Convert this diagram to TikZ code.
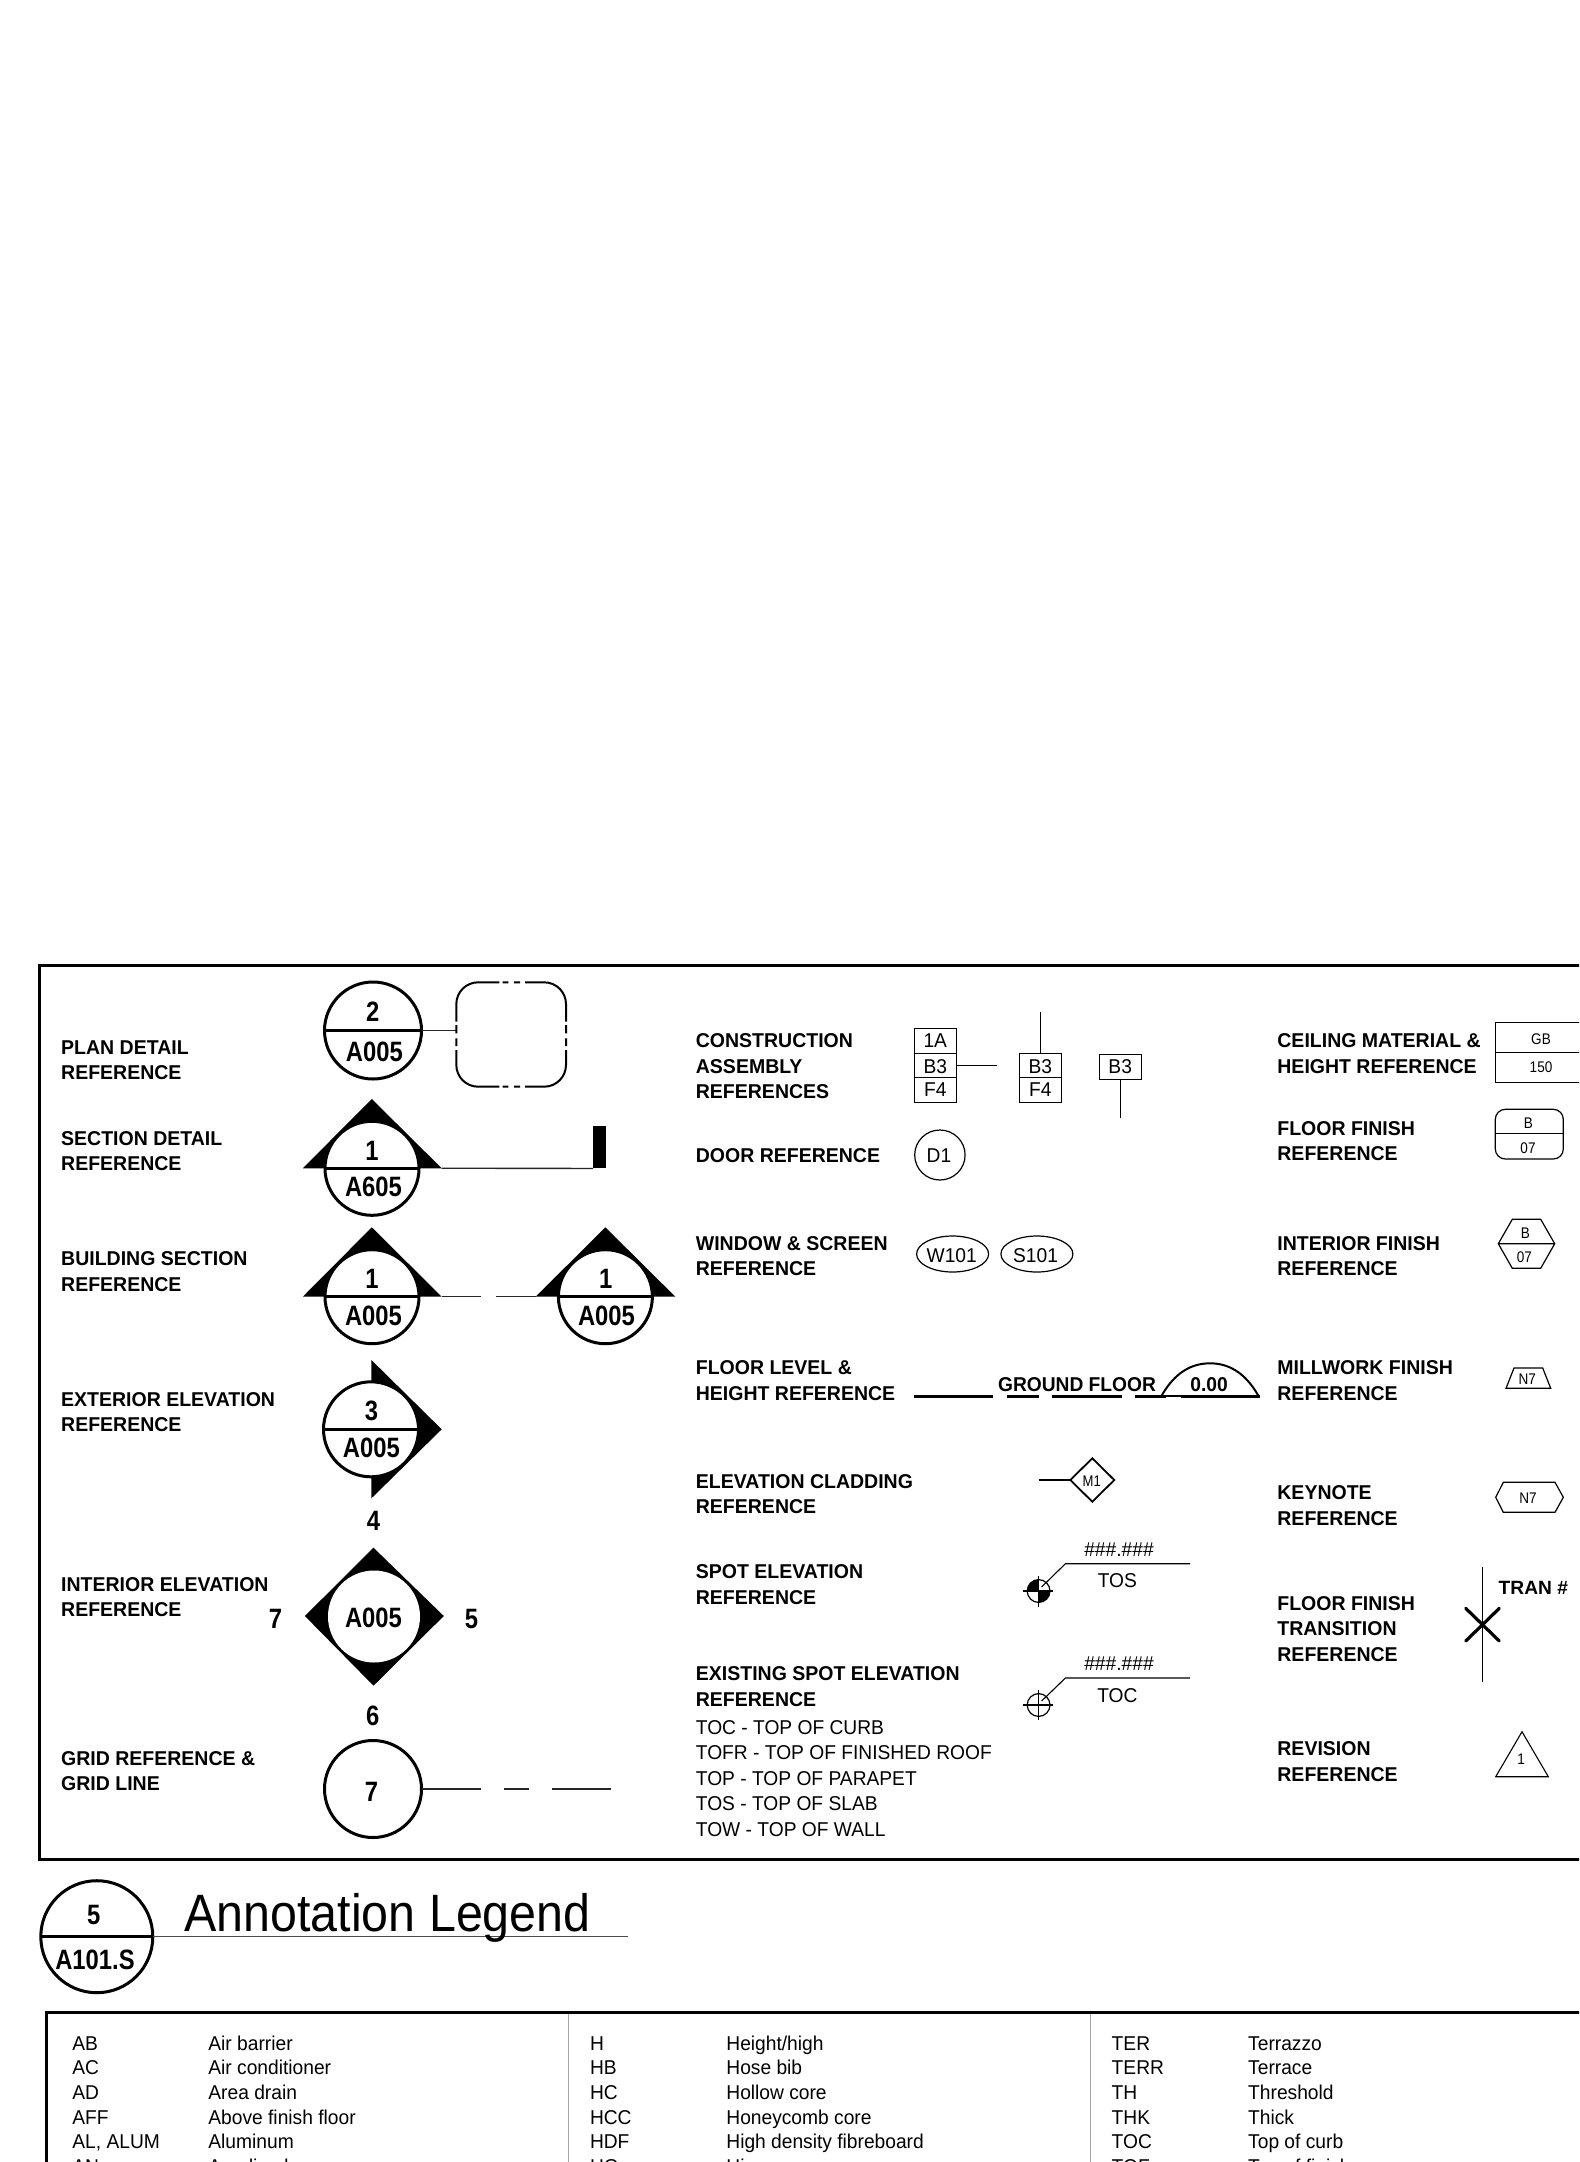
\documentclass[tikz,border=0pt]{standalone}
\usepackage{fontspec}
\setmainfont{Liberation Sans}
\newfontfamily\fLab[FakeStretch=.96]{Liberation Sans}
\newfontfamily\fBld[FakeStretch=.975]{Liberation Sans}
\newfontfamily\fNar[FakeStretch=.85]{Liberation Sans}
\newfontfamily\fSm[FakeStretch=.88]{Liberation Sans}
\newfontfamily\fTit[FakeStretch=.92]{Liberation Sans}
\usetikzlibrary{calc,shapes.geometric}
\tikzset{
  lab/.style={font=\fBld\bfseries\fontsize{10}{12.8}\selectfont,align=left,anchor=base west,inner sep=0pt},
  reg/.style={font=\fLab\fontsize{10}{12.75}\selectfont,align=left,anchor=base west,inner sep=0pt},
  leg/.style={font=\fLab\fontsize{10}{12.4}\selectfont,anchor=base west,inner sep=0pt},
  ctr/.style={font=\fLab\fontsize{10}{12}\selectfont,anchor=base,inner sep=0pt},
  sm/.style={font=\fSm\fontsize{7.7}{9}\selectfont,anchor=base,inner sep=0pt},
  big/.style={font=\fNar\bfseries\fontsize{14}{16}\selectfont,anchor=base,inner sep=0pt},
  bub/.style={circle,draw=black,fill=white,line width=1.5pt,inner sep=0pt,outer sep=0pt},
  thk/.style={line width=1.5pt,draw=black},
  thn/.style={line width=.65pt,draw=black!85},
  fine/.style={line width=.55pt,draw=black},
  outl/.style={line width=.6pt,draw=black},
  grayl/.style={line width=.5pt,draw=black!35},
}
\begin{document}
\begin{tikzpicture}[x=.5pt,y=-.5pt,line cap=butt]
\path[use as bounding box] (0,0) rectangle (1579,2162);
\clip (0,0) rectangle (1579,2162);
\fill[white] (0,0) rectangle (1579,2162);
% main frame
\coordinate (ftr) at (1600,965);\coordinate (ftl) at (39,965);\coordinate (fbl) at (39,1859);\coordinate (fbr) at (1600,1859);
\draw[thk] (ftr) -- (ftl) -- (fbl) -- (fbr);
% column 1 labels
\node[lab] (t1) at (60.8,1079.6) {PLAN DETAIL\\REFERENCE};
\node[lab] (t2) at (60.8,1170.6) {SECTION DETAIL\\REFERENCE};
\node[lab] (t3) at (60.8,1291.3) {BUILDING SECTION\\REFERENCE};
\node[lab] (t4) at (60.8,1431.6) {EXTERIOR ELEVATION\\REFERENCE};
\node[lab] (t5) at (60.8,1616.6) {INTERIOR ELEVATION\\REFERENCE};
\node[lab] (t6) at (60.8,1790.6) {GRID REFERENCE \&\\GRID LINE};
% plan detail
\node[bub,minimum size=48.5pt] (c1) at (373,1030.5) {};
\draw[thk] (c1.west) -- (c1.east);
\node[big] (c1a) at (372.7,1021.7) {2};
\node[big] (c1b) at (374.4,1061.7) {A005};
\coordinate (pw) at (456.3,1030.5);
\draw[thn] (c1.east) -- (pw);
\draw[line width=1pt]
 (499.3,982.3) -- (478.3,982.3) .. controls (466,982.3) and (456.3,992) .. (456.3,1004.3) -- (456.3,1021.7)
 (456.3,1025) -- (456.3,1033.3)
 (456.3,1038.3) -- (456.3,1046)
 (456.3,1050) -- (456.3,1064.7) .. controls (456.3,1077) and (466,1086.7) .. (478.3,1086.7) -- (499.3,1086.7)
 (502.7,1086.7) -- (508.3,1086.7)
 (514,1086.7) -- (520,1086.7)
 (525,1086.7) -- (544,1086.7) .. controls (556.3,1086.7) and (566,1077) .. (566,1064.7) -- (566,1050)
 (566,1046) -- (566,1038.3)
 (566,1033.3) -- (566,1025)
 (566,1021.7) -- (566,1004.3) .. controls (566,992) and (556.3,982.3) .. (544,982.3) -- (525,982.3)
 (520,982.3) -- (514,982.3)
 (508.3,982.3) -- (502.7,982.3);
% section detail
\fill (371.8,1099) -- (441.7,1168.3) -- (302.8,1168.3) -- cycle;
\node[bub,minimum size=47pt] (c2) at (372,1168.3) {};
\draw[thk] (c2.west) -- (c2.east);
\node[big] (c2a) at (372,1160.7) {1};
\node[big] (c2b) at (373.5,1196) {A605};
\coordinate (s2r) at (441.7,1168.3);
\node[fill=black,inner sep=0pt,outer sep=0pt,minimum width=6.5pt,minimum height=21.2pt] (bar) at (599.5,1147.2) {};
\draw[thn] (s2r) -- (bar.south west);
% building section
\fill (371.8,1227.3) -- (441.7,1296.7) -- (302.8,1296.7) -- cycle;
\node[bub,minimum size=47pt] (c3) at (372,1296.7) {};
\draw[thk] (c3.west) -- (c3.east);
\node[big] (c3a) at (372,1288.3) {1};
\node[big] (c3b) at (373.5,1325) {A005};
\fill (605.4,1227.3) -- (675.3,1296.7) -- (535.6,1296.7) -- cycle;
\node[bub,minimum size=47pt] (c4) at (605.4,1296.7) {};
\draw[thk] (c4.west) -- (c4.east);
\node[big] (c4a) at (605.8,1288.3) {1};
\node[big] (c4b) at (606.5,1325) {A005};
\coordinate (b1) at (441.7,1296.7);\coordinate (b2) at (480.9,1296.7);\coordinate (b3) at (496.4,1296.7);\coordinate (b4) at (535.6,1296.7);
\draw[thn] (b1) -- (b2) (b3) -- (b4);
% exterior elevation
\fill (371.4,1360) -- (441.7,1429.3) -- (371.4,1498.3) -- cycle;
\node[bub,minimum size=47.5pt] (c5) at (371,1429.3) {};
\draw[thk] (c5.west) -- (c5.east);
\node[big] (c5a) at (371.4,1420) {3};
\node[big] (c5b) at (371.4,1457.3) {A005};
\node[big] (n4) at (373.5,1530) {4};
% interior elevation
\fill (373.5,1547.7) -- (443.8,1616) -- (373.5,1685.7) -- (304.9,1616) -- cycle;
\node[circle,fill=white,inner sep=0pt,outer sep=0pt,minimum size=46pt] (c6) at (374,1616.5) {};
\node[big] (c6a) at (373.5,1627.3) {A005};
\node[big] (n7) at (275.5,1628.3) {7};
\node[big] (n5) at (471.6,1628.3) {5};
\node[big] (n6) at (372.7,1725) {6};
% grid
\node[bub,minimum size=48.5pt] (c7) at (373,1789) {};
\node[big] (c7a) at (371.4,1801.7) {7};
\coordinate (g1) at (480.9,1789);\coordinate (g2) at (504,1789);\coordinate (g3) at (529.3,1789);\coordinate (g4) at (552.4,1789);\coordinate (g5) at (611.3,1789);
\draw[thn] (c7.east) -- (g1) (g2) -- (g3) (g4) -- (g5);
% column 2 labels
\node[lab] (u1) at (695.5,1098.9) {CONSTRUCTION\\ASSEMBLY\\REFERENCES};
\node[lab] (u2) at (695.5,1162.7) {DOOR REFERENCE};
\node[lab] (u3) at (695.5,1275.6) {WINDOW \& SCREEN\\REFERENCE};
\node[lab] (u4) at (695.5,1400.3) {FLOOR LEVEL \&\\HEIGHT REFERENCE};
\node[lab] (u5) at (695.5,1513.9) {ELEVATION CLADDING\\REFERENCE};
\node[lab] (u6) at (695.5,1604.3) {SPOT ELEVATION\\REFERENCE};
\node[lab] (u7) at (695.5,1706.3) {EXISTING SPOT ELEVATION\\REFERENCE};
\node[reg] (u8) at (695.5,1836) {TOC - TOP OF CURB\\TOFR - TOP OF FINISHED ROOF\\TOP - TOP OF PARAPET\\TOS - TOP OF SLAB\\TOW - TOP OF WALL};
% assembly boxes
\draw[outl] (914.6,1028.7) rectangle (956.3,1102.7) (914.6,1053.3) -- (956.3,1053.3) (914.6,1077.7) -- (956.3,1077.7);
\node[ctr] (a1) at (935.3,1047.7) {1A};
\node[ctr] (a2) at (935.3,1073) {B3};
\node[ctr] (a3) at (935.3,1096.7) {F4};
\coordinate (ae) at (956.3,1065.7);\coordinate (af) at (996.5,1065.7);
\draw[fine] (ae) -- (af);
\draw[outl] (1019.5,1053.3) rectangle (1061.2,1102.7) (1019.5,1077.7) -- (1061.2,1077.7);
\node[ctr] (a4) at (1040.3,1073) {B3};
\node[ctr] (a5) at (1040.3,1096.7) {F4};
\coordinate (bt) at (1040.1,1053.3);\coordinate (bf) at (1040.1,1012);
\draw[fine] (bt) -- (bf);
\draw[outl] (1099.4,1054.7) rectangle (1141.1,1079.3);
\node[ctr] (a6) at (1120.2,1073.7) {B3};
\coordinate (ct) at (1120.1,1079.3);\coordinate (cf) at (1120.1,1118.3);
\draw[fine] (ct) -- (cf);
% door
\node[ellipse,outl,inner sep=0pt,minimum width=25.2pt,minimum height=25pt] (d1) at (939.9,1155) {};
\node[ctr] (d1t) at (939,1162) {D1};
% window
\node[ellipse,outl,inner sep=0pt,minimum width=36pt,minimum height=18pt] (w1) at (952.6,1254) {};
\node[ctr] (w1t) at (951.7,1262) {W101};
\node[ellipse,outl,inner sep=0pt,minimum width=36pt,minimum height=18pt] (w2) at (1036.9,1254) {};
\node[ctr] (w2t) at (1035.5,1262) {S101};
% floor level
\coordinate (fa) at (914.2,1396);\coordinate (fb) at (993,1396);\coordinate (fc) at (1007.2,1396);\coordinate (fd) at (1039,1396);
\coordinate (fe) at (1052,1396);\coordinate (ff) at (1122,1396);\coordinate (fg) at (1135.4,1396);\coordinate (fh) at (1166,1396);
\coordinate (fi) at (1181.3,1396);\coordinate (fj) at (1259.8,1396);
\draw[thk] (fa) -- (fb) (fc) -- (fd) (fe) -- (ff) (fg) -- (fh) (fi) -- (fj);
\draw[fine] (fh) -- (fi);
\draw[line width=1pt] (1161.4,1396) .. controls (1175,1372) and (1192,1363.3) .. (1210,1363.3) .. controls (1228,1363.3) and (1245,1372) .. (1258.5,1396);
\node[ctr,font=\fLab\bfseries\fontsize{10}{12}\selectfont] (gf) at (1077,1391.7) {GROUND FLOOR};
\node[ctr,font=\fLab\bfseries\fontsize{10}{12}\selectfont] (zz) at (1209,1391.7) {0.00};
% cladding
\node[diamond,draw=black,line width=.9pt,inner sep=0pt,outer sep=0pt,minimum width=22pt,minimum height=21.7pt,aspect=1] (m1) at (1092.3,1480) {};
\node[sm,font=\fNar\fontsize{7.7}{9}\selectfont] (m1t) at (1091.8,1486) {M1};
\coordinate (ml) at (1038.6,1480);
\draw[fine] (ml) -- (m1.west);
% spot
\node[circle,draw=black,line width=.6pt,inner sep=0pt,outer sep=0pt,minimum size=11.4pt] (sp) at (1038.6,1591) {};
\fill (sp.center) -- (sp.north) arc[start angle=90,end angle=180,radius=5.7pt] -- cycle;
\fill (sp.center) -- (sp.south) arc[start angle=270,end angle=360,radius=5.7pt] -- cycle;
\draw[fine] (1023.3,1591) -- (1053.1,1591) (1038.6,1575.7) -- (1038.6,1606.7);
\coordinate (sk) at (1065.4,1563.7);\coordinate (se) at (1190,1563.7);
\draw[fine] (sp.center) ++(3,-4) -- (sk) -- (se);
\node[ctr] (st) at (1119,1556.7) {\#\#\#.\#\#\#};
\node[ctr] (sb) at (1117.4,1587.7) {TOS};
% existing spot
\node[circle,draw=black,line width=.6pt,inner sep=0pt,outer sep=0pt,minimum size=11.4pt] (ep) at (1038.6,1705) {};
\draw[fine] (1023.3,1705) -- (1053.1,1705) (1038.6,1690) -- (1038.6,1720);
\coordinate (ek) at (1065.4,1678);\coordinate (ee) at (1190,1678);
\draw[fine] (ep.center) ++(3,-4) -- (ek) -- (ee);
\node[ctr] (et) at (1119,1670.7) {\#\#\#.\#\#\#};
\node[ctr] (eb) at (1117.4,1702.7) {TOC};
% column 3 labels
\node[lab] (v1) at (1277,1073.3) {CEILING MATERIAL \&\\HEIGHT REFERENCE};
\node[lab] (v2) at (1277,1160.6) {FLOOR FINISH\\REFERENCE};
\node[lab] (v3) at (1277,1275.6) {INTERIOR FINISH\\REFERENCE};
\node[lab] (v4) at (1277,1400.3) {MILLWORK FINISH\\REFERENCE};
\node[lab] (v5) at (1277,1525.3) {KEYNOTE\\REFERENCE};
\node[lab] (v6) at (1277,1661.2) {FLOOR FINISH\\TRANSITION\\REFERENCE};
\node[lab] (v7) at (1277,1781.3) {REVISION\\REFERENCE};
% ceiling
\draw[outl] (1495.3,1022.3) rectangle (1590,1082.7) (1495.3,1052.3) -- (1590,1052.3);
\node[sm] (g1t) at (1541,1044.3) {GB};
\node[sm] (g2t) at (1541,1072.3) {150};
% floor finish
\draw[outl,rounded corners=5pt] (1495.3,1109.3) rectangle (1563.3,1159);
\draw[outl] (1495.3,1133.7) -- (1563.3,1133.7);
\node[sm] (f1t) at (1528.3,1128.3) {B};
\node[sm] (f2t) at (1528,1153.3) {07};
% interior finish
\draw[outl] (1498.3,1243.7) -- (1512.3,1219.3) -- (1540.7,1219.3) -- (1554.7,1243.7) -- (1540.7,1268.3) -- (1512.3,1268.3) -- cycle (1498.3,1243.7) -- (1554.7,1243.7);
\node[sm] (i1t) at (1525.3,1238.3) {B};
\node[sm] (i2t) at (1524.3,1262.3) {07};
% millwork
\draw[outl] (1506,1388.3) -- (1514,1368) -- (1542.7,1368) -- (1550.7,1388.3) -- cycle;
\node[sm] (mw) at (1527.3,1384.3) {N7};
% keynote
\draw[outl] (1495.7,1497.3) -- (1503.3,1482.3) -- (1555,1482.3) -- (1563.3,1497.3) -- (1555,1512.3) -- (1503.3,1512.3) -- cycle;
\node[sm] (kn) at (1528,1503) {N7};
% transition
\coordinate (tt) at (1482.3,1567.3);\coordinate (tb) at (1482.3,1681.7);
\draw[outl] (tt) -- (tb);
\draw[line width=1.6pt,line cap=round] (1465.7,1608.3) -- (1499.3,1641) (1499.3,1608.3) -- (1465.7,1641);
\node[lab,font=\bfseries\fontsize{9.6}{12}\selectfont] (tr) at (1498.3,1594.7) {TRAN \#};
% revision
\draw[fine] (1522,1731.7) -- (1548.3,1776.7) -- (1495.7,1776.7) -- cycle;
\node[sm] (rv) at (1521,1764.3) {1};
% title
\node[bub,minimum size=56pt] (c8) at (96.8,1936.7) {};
\draw[line width=1.75pt] (c8.west) -- (c8.east);
\node[big] (c8a) at (93.7,1924) {5};
\node[big] (c8b) at (95,1969.3) {A101.S};
\coordinate (ul) at (628,1936.7);
\draw[line width=.6pt,draw=black!70] (c8.east) -- (ul);
\node[anchor=base west,inner sep=0pt,font=\fTit\fontsize{26.3}{30}\selectfont] (ttl) at (184,1931) {Annotation Legend};
% legend frame
\coordinate (ltr) at (1600,2012.3);\coordinate (ltl) at (46.5,2012.3);\coordinate (lbl) at (46.5,2200);
\coordinate (d1a) at (568.4,2012.3);\coordinate (d1b) at (568.4,2200);\coordinate (d2a) at (1090,2012.3);\coordinate (d2b) at (1090,2200);
\draw[grayl] (d1a) -- (d1b) (d2a) -- (d2b);
\draw[thk] (ltr) -- (ltl) -- (lbl);
% legend rows
\foreach \yy/\ka/\va/\kb/\vb/\kc/\vc in {
 2050/AB/Air barrier/H/Height\slash high/TER/Terrazzo,
 2074.7/AC/Air conditioner/HB/Hose bib/TERR/Terrace,
 2099.4/AD/Area drain/HC/Hollow core/TH/Threshold,
 2124.1/AFF/Above finish floor/HCC/Honeycomb core/THK/Thick,
 2148.8/{AL, ALUM}/Aluminum/HDF/High density fibreboard/TOC/Top of curb,
 2173.5/AN/Anodized/HG/Hinge/TOF/Top of finish}{
 \node[leg] at (72,\yy) {\ka};
 \node[leg] at (208,\yy) {\va};
 \node[leg] at (589.6,\yy) {\kb};
 \node[leg] at (726,\yy) {\vb};
 \node[leg] at (1111.3,\yy) {\kc};
 \node[leg] at (1247.8,\yy) {\vc};
}
\end{tikzpicture}
\end{document}
